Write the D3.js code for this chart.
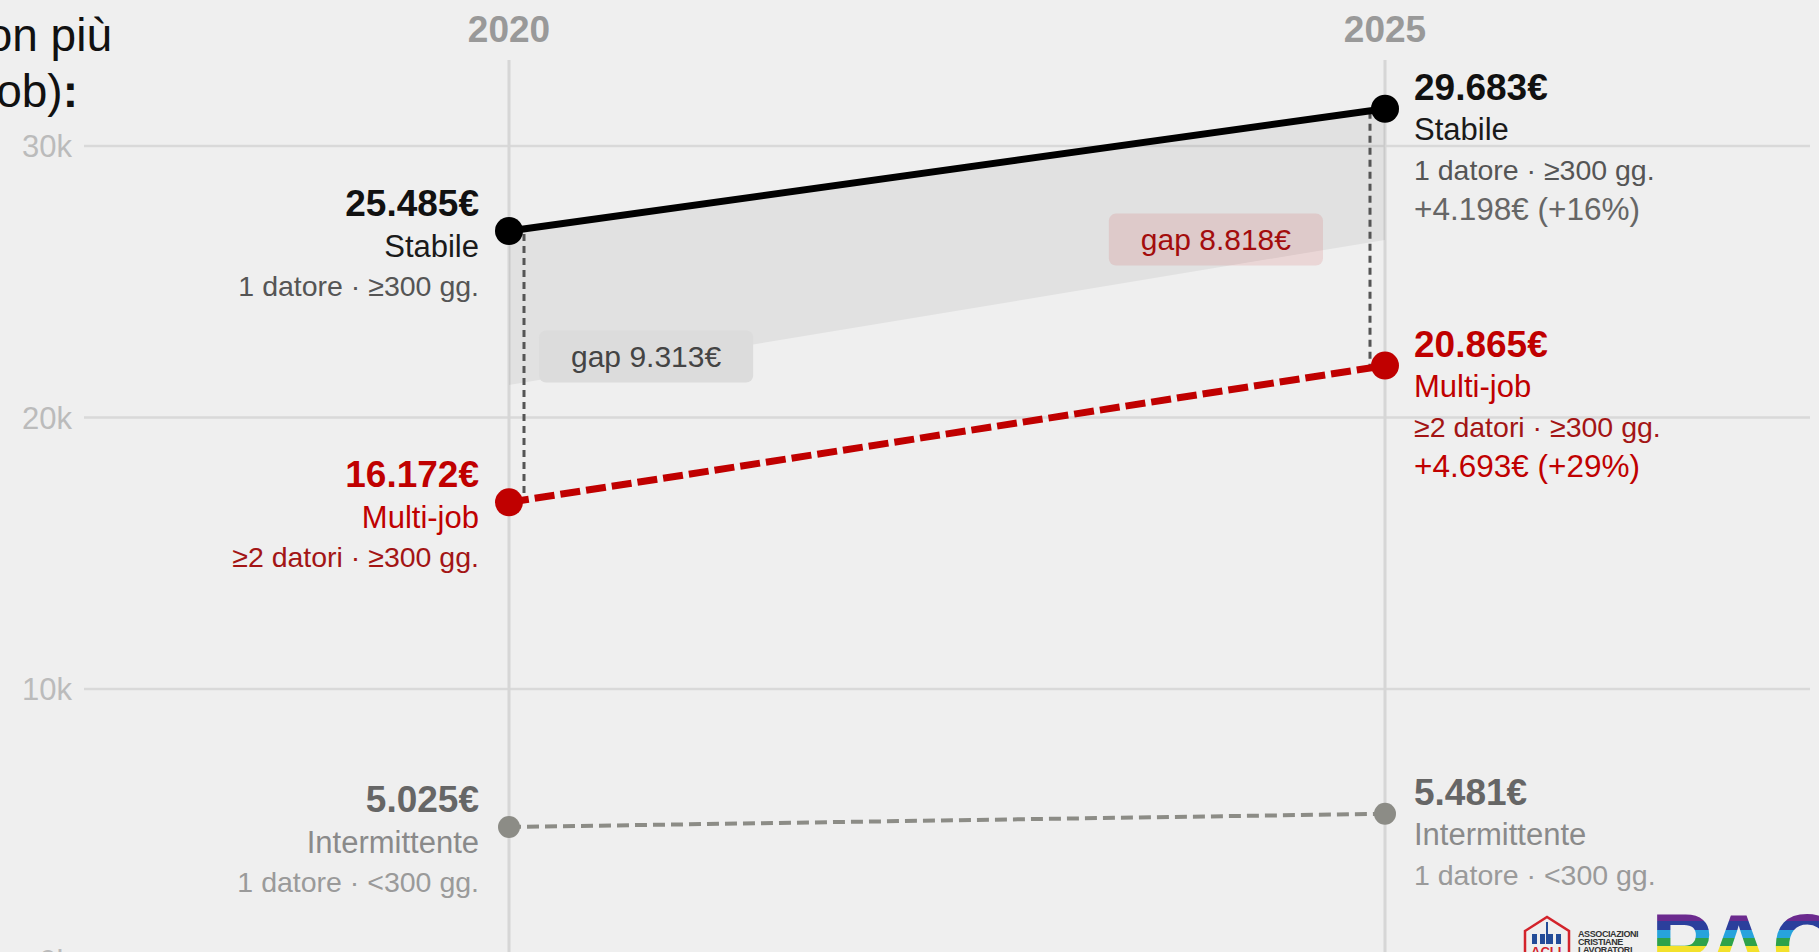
<!DOCTYPE html>
<html>
<head>
<meta charset="utf-8">
<script src="https://cdn.jsdelivr.net/npm/d3@7"></script>
<style>
  html, body { margin: 0; padding: 0; background: #efefef; overflow: hidden; }
  svg { display: block; font-family: "Liberation Sans", Arial, Helvetica, sans-serif; }
</style>
</head>
<body>
<svg id="chart" width="1819" height="952">
  <defs>
    <linearGradient id="rainbow" gradientUnits="userSpaceOnUse" x1="0" y1="913" x2="0" y2="971"></linearGradient>
  </defs>
  <g id="grid"></g>
  <g id="band"></g>
  <g id="gaps"></g>
  <g id="lines"></g>
  <g id="labels"></g>
  <g id="title"></g>
  <g id="logos"></g>
</svg>
<script>
const years = [2020, 2025]
const names = ['Stabile', 'Multi-job', 'Intermittente']
const stabile = [25485, 29683]
const multiJob = [16172, 20865]
const intermittente = [5025, 5481]
const details = ['1 datore · ≥300 gg.', '≥2 datori · ≥300 gg.', '1 datore · <300 gg.']
const yTicks = [0, 10000, 20000, 30000]
// lower edge of the shaded gap band and where the gap pills sit
const bandLow = [20200, 25180]
const gapLabelAt = [21180, 25190]
const titleLines = ['Reddito medio annuo dei lavoratori con più', 'datori di lavoro (multi-job)']

const it = d3.formatLocale({ decimal: ',', thousands: '.', grouping: [3], currency: ['', '€'] })
const euro = it.format('$,')
const euroDelta = it.format('+$,')
const pct = d3.format('+.0%')

const svg = d3.select('#chart')

const xScale = d3.scaleLinear().domain(years).range([509, 1385])
// marks and gridlines do not share the same vertical mapping in the original
const yScale = d3.scaleLinear().domain([0, 30000]).range([973.4, 99.5])
const gridScale = d3.scaleLinear().domain([0, 30000]).range([960.5, 146])

const series = [
  { name: names[0], values: stabile, detail: details[0], line: '#000', width: 7, dash: null, r: 14,
    cNum: '#111', cName: '#1a1a1a', cDetail: '#555', cDelta: '#666' },
  { name: names[1], values: multiJob, detail: details[1], line: '#c00000', width: 7, dash: '20,6', r: 14,
    cNum: '#c00000', cName: '#c00000', cDetail: '#a31515', cDelta: '#c00000' },
  { name: names[2], values: intermittente, detail: details[2], line: '#8c8c86', width: 4, dash: '12,6', r: 11,
    cNum: '#666', cName: '#8a8a8a', cDetail: '#9a9a9a', cDelta: null, noDelta: true }
]

// grid
const grid = svg.select('#grid')
grid.selectAll('.hline').data(yTicks).join('line').attr('class', 'hline')
  .attr('x1', 84).attr('x2', 1810)
  .attr('y1', d => gridScale(d)).attr('y2', d => gridScale(d))
  .attr('stroke', '#d9d9d9').attr('stroke-width', 2.5)
grid.selectAll('.ytick').data(yTicks).join('text').attr('class', 'ytick')
  .attr('x', 72).attr('y', d => gridScale(d)).attr('dy', '0.36em')
  .attr('text-anchor', 'end').attr('font-size', 31).attr('fill', '#bbb')
  .text(d => d / 1000 + 'k')
grid.selectAll('.vline').data(years).join('line').attr('class', 'vline')
  .attr('x1', d => xScale(d)).attr('x2', d => xScale(d))
  .attr('y1', 60).attr('y2', 960)
  .attr('stroke', '#d6d6d6').attr('stroke-width', 3)
grid.selectAll('.year').data(years).join('text').attr('class', 'year')
  .attr('x', d => xScale(d)).attr('y', 42)
  .attr('text-anchor', 'middle').attr('font-size', 37).attr('font-weight', 'bold').attr('fill', '#999')
  .text(d => d)

// gap band between the two top series
const band = d3.area()
  .x((d, i) => xScale(years[i]))
  .y0((d, i) => yScale(bandLow[i]))
  .y1(d => yScale(d))
svg.select('#band').selectAll('path').data([stabile]).join('path')
  .attr('d', band).attr('fill', '#000').attr('fill-opacity', 0.055)

// dotted connectors
const conn = [
  { x: xScale(years[0]) + 15, y1: yScale(stabile[0]), y2: yScale(multiJob[0]) },
  { x: xScale(years[1]) - 15, y1: yScale(stabile[1]), y2: yScale(multiJob[1]) }
]
svg.select('#gaps').selectAll('line').data(conn).join('line')
  .attr('x1', d => d.x).attr('x2', d => d.x).attr('y1', d => d.y1 + 3).attr('y2', d => d.y2)
  .attr('stroke', '#555').attr('stroke-width', 3).attr('stroke-dasharray', '7,5')

// gap pills
const gaps = years.map((y, i) => ({ i, text: 'gap ' + euro(stabile[i] - multiJob[i]), cy: yScale(gapLabelAt[i]) }))
const pills = svg.select('#gaps').selectAll('.pill').data(gaps).join('g').attr('class', 'pill')
pills.append('text')
  .attr('font-size', 30).attr('fill', d => d.i === 0 ? '#444' : '#a30d0d')
  .attr('text-anchor', 'middle').attr('dy', '0.35em')
  .text(d => d.text)
pills.each(function (d) {
  const g = d3.select(this)
  const w = g.select('text').node().getComputedTextLength() + 64
  const left = d.i === 0 ? xScale(years[0]) + 30 : xScale(years[1]) - 62 - w
  g.attr('transform', `translate(${left + w / 2},${d.cy})`)
  g.insert('rect', 'text')
    .attr('x', -w / 2).attr('y', -26).attr('width', w).attr('height', 52).attr('rx', 7)
    .attr('fill', d.i === 0 ? '#dcdcdc' : 'rgba(192,0,0,0.1)')
})

// lines and dots
const lineGen = d3.line().x((d, i) => xScale(years[i])).y(d => yScale(d))
const lines = svg.select('#lines')
lines.selectAll('path').data(series).join('path')
  .attr('d', d => lineGen(d.values))
  .attr('fill', 'none').attr('stroke', d => d.line).attr('stroke-width', d => d.width)
  .attr('stroke-dasharray', d => d.dash)
series.forEach((s, k) => {
  lines.selectAll('.dot' + k).data(s.values).join('circle').attr('class', 'dot' + k)
    .attr('cx', (d, i) => xScale(years[i])).attr('cy', d => yScale(d))
    .attr('r', s.r).attr('fill', s.line)
})

// value labels
const labels = svg.select('#labels')
series.forEach(s => {
  years.forEach((yr, i) => {
    const left = i === 0
    const g = labels.append('g')
      .attr('transform', `translate(${left ? xScale(yr) - 30 : xScale(yr) + 29},${yScale(s.values[i])})`)
      .attr('text-anchor', left ? 'end' : 'start')
    const base = left ? -15 : -9
    g.append('text').attr('y', base).attr('font-size', 37).attr('font-weight', 'bold')
      .attr('fill', s.cNum).text(euro(s.values[i]))
    g.append('text').attr('y', base + 40.5).attr('font-size', 31).attr('fill', s.cName).text(s.name)
    g.append('text').attr('y', base + 80).attr('font-size', 28.5).attr('fill', s.cDetail).text(s.detail)
    if (!left && !s.noDelta) {
      const diff = s.values[1] - s.values[0]
      g.append('text').attr('y', base + 120).attr('font-size', 31.5).attr('fill', s.cDelta)
        .text(euroDelta(diff) + ' (' + pct(diff / s.values[0]) + ')')
    }
  })
})

// title (cut off by the left edge, as in the source)
const title = svg.select('#title')
title.append('text').attr('x', 112).attr('y', 51).attr('text-anchor', 'end')
  .attr('font-size', 46).attr('fill', '#111').text(titleLines[0])
const t2 = title.append('text').attr('x', 78).attr('y', 107).attr('text-anchor', 'end')
  .attr('font-size', 46).attr('fill', '#111')
t2.append('tspan').text(titleLines[1])
t2.append('tspan').attr('font-weight', 'bold').text(':')

// logos bottom right
const rainbow = ['#6b2a8e', '#2b3f9c', '#27a3dc', '#2ea24a', '#f3e12b', '#f29a1d', '#e2262a']
const grad = svg.select('#rainbow')
rainbow.forEach((c, i) => {
  grad.append('stop').attr('offset', i / rainbow.length).attr('stop-color', c)
  grad.append('stop').attr('offset', (i + 1) / rainbow.length).attr('stop-color', c)
})
const logos = svg.select('#logos')
logos.append('path')
  .attr('d', 'M1525,955 L1525,931 L1547,917 L1569,931 L1569,955')
  .attr('fill', 'none').attr('stroke', '#d3232b').attr('stroke-width', 2.5)
logos.selectAll('.bar').data([0, 1, 2, 3]).join('rect').attr('class', 'bar')
  .attr('x', d => 1532 + d * 8).attr('y', 934).attr('width', 5).attr('height', 10).attr('fill', '#234c98')
logos.append('line').attr('x1', 1547).attr('x2', 1547).attr('y1', 922).attr('y2', 944)
  .attr('stroke', '#234c98').attr('stroke-width', 2)
logos.append('text').attr('x', 1531).attr('y', 956).attr('font-size', 13).attr('font-weight', 'bold')
  .attr('fill', '#d3232b').text('ACLI')
logos.selectAll('.acli').data(['ASSOCIAZIONI', 'CRISTIANE', 'LAVORATORI']).join('text').attr('class', 'acli')
  .attr('x', 1578).attr('y', (d, i) => 937 + i * 8).attr('font-size', 9).attr('font-weight', 'bold')
  .attr('letter-spacing', -0.4).attr('fill', '#333').text(d => d)
logos.append('text').attr('x', 1651).attr('y', 979).attr('font-size', 92).attr('font-weight', 900)
  .attr('fill', 'url(#rainbow)').text('PACE')
</script>
</body>
</html>
